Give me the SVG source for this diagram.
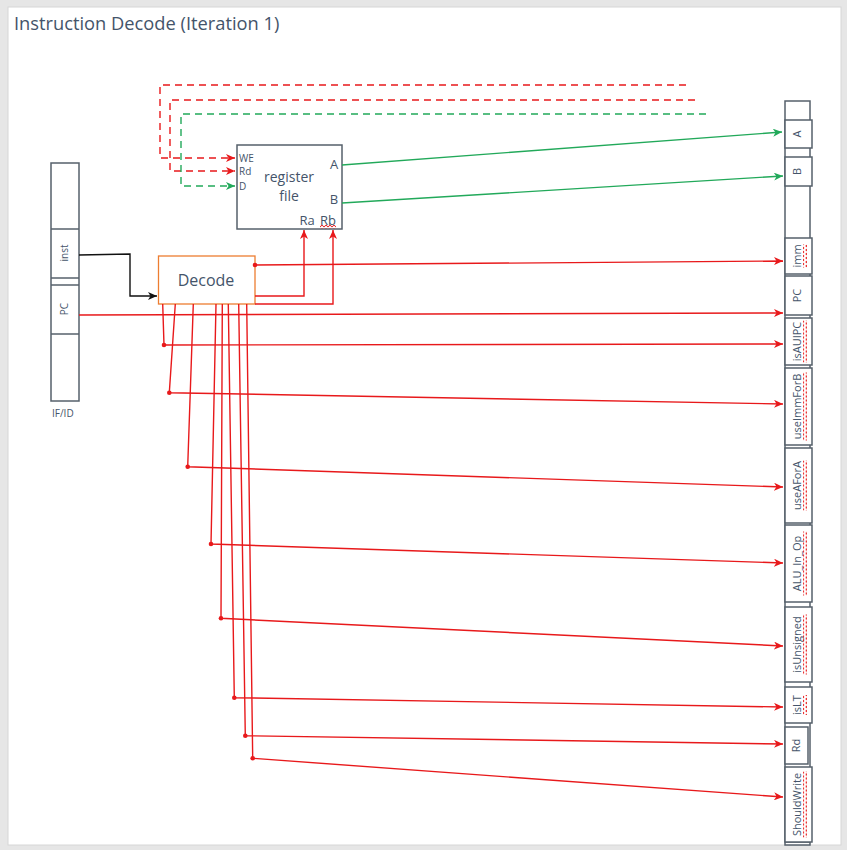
<svg xmlns="http://www.w3.org/2000/svg" width="847" height="850" viewBox="0 0 847 850">
<style>
.lbl{font-family:"Open Sans","Liberation Sans",sans-serif;fill:#44546a}
.box{fill:#fff;stroke:#56606b;stroke-width:1.5}
.red{fill:none;stroke:#e8191b;stroke-width:1.4}
.grn{fill:none;stroke:#22a95a;stroke-width:1.4}
.blk{fill:none;stroke:#111;stroke-width:1.4}
.dash{stroke-dasharray:7 5}
.dot{fill:#e8191b}
</style>
<defs>
<marker id="ar" markerWidth="10" markerHeight="8" refX="9" refY="4" orient="auto" markerUnits="userSpaceOnUse"><path d="M0,0 L9,4 L0,8 L2.5,4 z" fill="#e8191b"/></marker>
<marker id="ag" markerWidth="10" markerHeight="8" refX="9" refY="4" orient="auto" markerUnits="userSpaceOnUse"><path d="M0,0 L9,4 L0,8 L2.5,4 z" fill="#22a95a"/></marker>
<marker id="ak" markerWidth="10" markerHeight="8" refX="9" refY="4" orient="auto" markerUnits="userSpaceOnUse"><path d="M0,0 L9,4 L0,8 L2.5,4 z" fill="#111"/></marker>
<pattern id="wavy" width="4" height="4" patternUnits="userSpaceOnUse"><path d="M0,3.3 L2,0.7 L4,3.3" fill="none" stroke="#e8191b" stroke-width="1"/></pattern>
</defs>
<rect x="0" y="0" width="847" height="850" fill="#e6e6e6"/>
<rect x="8" y="7" width="833" height="838" fill="#fff" stroke="#d6d6d6" stroke-width="1"/>
<text class="lbl" x="14" y="30" font-size="18.3">Instruction Decode (Iteration 1)</text>

<g id="ifid">
<rect class="box" x="51" y="163" width="28" height="238"/>
<line x1="51" y1="229" x2="79" y2="229" stroke="#56606b" stroke-width="1.5"/>
<line x1="51" y1="278" x2="79" y2="278" stroke="#56606b" stroke-width="1.5"/>
<line x1="51" y1="285" x2="79" y2="285" stroke="#56606b" stroke-width="1.5"/>
<line x1="51" y1="334" x2="79" y2="334" stroke="#56606b" stroke-width="1.5"/>
<text class="lbl" font-size="10" text-anchor="middle" transform="translate(68,253) rotate(-90)">inst</text>
<text class="lbl" font-size="10" text-anchor="middle" transform="translate(68,309) rotate(-90)">PC</text>
<text class="lbl" x="52" y="417" font-size="10">IF/ID</text>
</g>

<g id="regfile">
<rect class="box" x="237" y="145" width="105" height="84"/>
<text class="lbl" x="239" y="162" font-size="10">WE</text>
<text class="lbl" x="239" y="175" font-size="10">Rd</text>
<text class="lbl" x="239" y="190" font-size="10">D</text>
<text class="lbl" x="289" y="182" font-size="14" text-anchor="middle">register</text>
<text class="lbl" x="289" y="201" font-size="14" text-anchor="middle">file</text>
<text class="lbl" x="334" y="169" font-size="13" text-anchor="middle">A</text>
<text class="lbl" x="334" y="204" font-size="13" text-anchor="middle">B</text>
<text class="lbl" x="307" y="225" font-size="13" text-anchor="middle">Ra</text>
<text class="lbl" x="328" y="225" font-size="13" text-anchor="middle">Rb</text>
<rect x="320" y="225" width="16" height="4" fill="url(#wavy)"/>
</g>

<g id="decode">
<rect x="158.5" y="256" width="96.5" height="48" fill="#fff" stroke="#ed7d31" stroke-width="1.3"/>
<text class="lbl" x="206" y="286" font-size="16" text-anchor="middle">Decode</text>
</g>

<g id="idex">
<rect class="box" x="785" y="101" width="25" height="744"/>
<line x1="785" y1="842" x2="810" y2="842" stroke="#56606b" stroke-width="1.5"/>
<g id="r-A"><rect class="box" x="785" y="120" width="27" height="28"/><text class="lbl" font-size="11" text-anchor="middle" transform="translate(797,134) rotate(-90)" y="4">A</text></g>
<g id="r-B"><rect class="box" x="785" y="157" width="27" height="29"/><text class="lbl" font-size="11" text-anchor="middle" transform="translate(797,171.5) rotate(-90)" y="4">B</text></g>
<g id="r-imm"><rect class="box" x="785" y="238" width="27" height="36"/><g transform="translate(797,256) rotate(-90)"><text class="lbl" font-size="11" text-anchor="middle" y="4">imm</text><rect x="-11.5" y="6" width="23" height="4" fill="url(#wavy)"/></g></g>
<g id="r-PC"><rect class="box" x="785" y="276" width="27" height="39"/><text class="lbl" font-size="11" text-anchor="middle" transform="translate(797,295.5) rotate(-90)" y="4">PC</text></g>
<g id="r-isAUIPC"><rect class="box" x="785" y="318" width="27" height="47"/><g transform="translate(797,341.5) rotate(-90)"><text class="lbl" font-size="11" text-anchor="middle" y="4">isAUIPC</text><rect x="-21" y="6" width="42" height="4" fill="url(#wavy)"/></g></g>
<g id="r-useImmForB"><rect class="box" x="785" y="368" width="27" height="77"/><g transform="translate(797,406.5) rotate(-90)"><text class="lbl" font-size="11" text-anchor="middle" y="4">useImmForB</text><rect x="-34" y="6" width="68" height="4" fill="url(#wavy)"/></g></g>
<g id="r-useAForA"><rect class="box" x="785" y="448" width="27" height="75"/><g transform="translate(797,485.5) rotate(-90)"><text class="lbl" font-size="11" text-anchor="middle" y="4">useAForA</text><rect x="-25" y="6" width="50" height="4" fill="url(#wavy)"/></g></g>
<g id="r-ALU"><rect class="box" x="785" y="525" width="27" height="77"/><g transform="translate(797,563.5) rotate(-90)"><text class="lbl" font-size="11" text-anchor="middle" y="4">ALU_In_Op</text><rect x="-32" y="6" width="64" height="4" fill="url(#wavy)"/></g></g>
<g id="r-isUnsigned"><rect class="box" x="785" y="607" width="27" height="75"/><g transform="translate(797,644.5) rotate(-90)"><text class="lbl" font-size="11" text-anchor="middle" y="4">isUnsigned</text><rect x="-30" y="6" width="60" height="4" fill="url(#wavy)"/></g></g>
<g id="r-isLT"><rect class="box" x="785" y="687" width="27" height="36"/><g transform="translate(797,705) rotate(-90)"><text class="lbl" font-size="11" text-anchor="middle" y="4">isLT</text><rect x="-10" y="6" width="20" height="4" fill="url(#wavy)"/></g></g>
<g id="r-Rd"><rect class="box" x="785" y="727" width="23" height="37"/><text class="lbl" font-size="11" text-anchor="middle" transform="translate(796,745.5) rotate(-90)" y="4">Rd</text></g>
<g id="r-ShouldWrite"><rect class="box" x="785" y="767" width="27" height="75"/><g transform="translate(797,804.5) rotate(-90)"><text class="lbl" font-size="11" text-anchor="middle" y="4">ShouldWrite</text><rect x="-33" y="6" width="66" height="4" fill="url(#wavy)"/></g></g>
</g>

<g id="connectors">
<path class="red dash" d="M686,85 H160 V158 H235" marker-end="url(#ar)"/>
<path class="red dash" d="M695,100 H170 V171 H235" marker-end="url(#ar)"/>
<path class="grn dash" d="M706,114 H181 V186 H235" marker-end="url(#ag)"/>
<path class="grn" d="M342,165 L782,132" marker-end="url(#ag)"/>
<path class="grn" d="M342,203 L783,176" marker-end="url(#ag)"/>
<path class="blk" d="M79,255 L130,254 V296 H157" marker-end="url(#ak)"/>
<path class="red" d="M255,265 L783,261" marker-end="url(#ar)"/>
<circle class="dot" cx="255" cy="265" r="2.3"/>
<path class="red" d="M255,296 H304 V230" marker-end="url(#ar)"/>
<path class="red" d="M255,304 H333 V230" marker-end="url(#ar)"/>
<path class="red" d="M79,315 L783,313" marker-end="url(#ar)"/>
<path class="red" d="M162.7,304 L164,345 L783,344" marker-end="url(#ar)"/>
<circle class="dot" cx="164" cy="345" r="2.3"/>
<path class="red" d="M175.3,304 L169.3,392.7 L783,404" marker-end="url(#ar)"/>
<circle class="dot" cx="169.3" cy="392.7" r="2.3"/>
<path class="red" d="M193.3,304 L187.7,466.7 L783,487" marker-end="url(#ar)"/>
<circle class="dot" cx="187.7" cy="466.7" r="2.3"/>
<path class="red" d="M216,304 L211,544 L783,563" marker-end="url(#ar)"/>
<circle class="dot" cx="211" cy="544" r="2.3"/>
<path class="red" d="M222.3,304 L221,618.3 L783,646" marker-end="url(#ar)"/>
<circle class="dot" cx="221" cy="618.3" r="2.3"/>
<path class="red" d="M228.3,304 L234.3,697.7 L783,707" marker-end="url(#ar)"/>
<circle class="dot" cx="234.3" cy="697.7" r="2.3"/>
<path class="red" d="M238.7,304 L245.3,735.7 L783,744" marker-end="url(#ar)"/>
<circle class="dot" cx="245.3" cy="735.7" r="2.3"/>
<path class="red" d="M246.7,304 L252.7,758.3 L783,797" marker-end="url(#ar)"/>
<circle class="dot" cx="252.7" cy="758.3" r="2.3"/>
</g>
</svg>
